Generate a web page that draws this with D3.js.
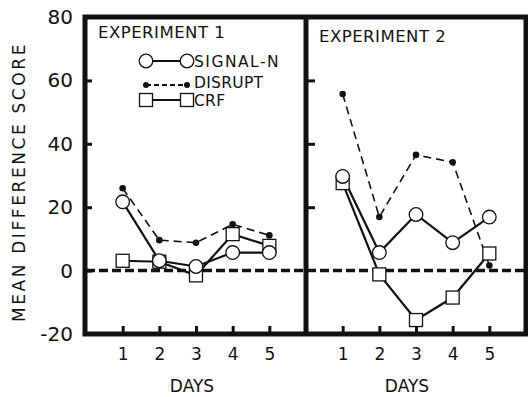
<!DOCTYPE html>
<html>
<head>
<meta charset="utf-8">
<script src="https://cdn.jsdelivr.net/npm/d3@7"></script>
<style>
  body { margin: 0; background: #fff; }
  text { font-family: "DejaVu Sans", sans-serif; fill: #111; }
</style>
</head>
<body>
<div id="chart"></div>
<script>
// data
var days = [1, 2, 3, 4, 5];
var yTicks = [-20, 0, 20, 40, 60, 80];

var exp1Signal = [21.7, 3.1, 1.3, 5.7, 5.7];
var exp1Disrupt = [26.0, 9.6, 8.8, 14.6, 11.1];
var exp1Crf = [3.1, 2.8, -1.5, 11.5, 7.8];

var exp2Signal = [29.7, 5.7, 17.7, 8.8, 16.9];
var exp2Disrupt = [55.7, 16.9, 36.5, 34.2, 1.6];
var exp2Crf = [27.6, -1.2, -15.6, -8.5, 5.4];

var width = 528, height = 397;
var plotTop = 17, plotBottom = 334;

var svg = d3.select("#chart").append("svg")
  .attr("width", width)
  .attr("height", height);

var y = d3.scaleLinear().domain([-20, 80]).range([plotBottom, plotTop]);

var panels = [
  { title: "EXPERIMENT 1", x0: 86, x1: 306, signal: exp1Signal, disrupt: exp1Disrupt, crf: exp1Crf, titleX: 98, titleY: 38, daysX: 192 },
  { title: "EXPERIMENT 2", x0: 306, x1: 526, signal: exp2Signal, disrupt: exp2Disrupt, crf: exp2Crf, titleX: 319, titleY: 42, daysX: 407 }
];

// zero reference line across both panels
svg.append("line")
  .attr("x1", 86).attr("x2", 528)
  .attr("y1", y(0)).attr("y2", y(0))
  .attr("stroke", "#111")
  .attr("stroke-width", 3.5)
  .attr("stroke-dasharray", "9,4");

panels.forEach(function(p) {
  var x = d3.scaleLinear().domain([0, 6]).range([p.x0, p.x1]);
  var g = svg.append("g");

  var line = d3.line()
    .x(function(d, i) { return x(days[i]); })
    .y(function(d) { return y(d); });

  // disrupt (dashed, dots)
  g.append("path").datum(p.disrupt)
    .attr("d", line).attr("fill", "none")
    .attr("stroke", "#111").attr("stroke-width", 1.6)
    .attr("stroke-dasharray", "8,5");

  // CRF (solid, squares)
  g.append("path").datum(p.crf)
    .attr("d", line).attr("fill", "none")
    .attr("stroke", "#111").attr("stroke-width", 2.2);

  // signal-n (solid, circles)
  g.append("path").datum(p.signal)
    .attr("d", line).attr("fill", "none")
    .attr("stroke", "#111").attr("stroke-width", 2.2);

  g.selectAll(".crf").data(p.crf).enter()
    .append("rect")
    .attr("x", function(d, i) { return x(days[i]) - 6.5; })
    .attr("y", function(d) { return y(d) - 6.5; })
    .attr("width", 13).attr("height", 13)
    .attr("fill", "#fff").attr("stroke", "#111").attr("stroke-width", 1.3);

  g.selectAll(".sig").data(p.signal).enter()
    .append("circle")
    .attr("cx", function(d, i) { return x(days[i]); })
    .attr("cy", function(d) { return y(d); })
    .attr("r", 6.8)
    .attr("fill", "#fff").attr("stroke", "#111").attr("stroke-width", 1.3);

  g.selectAll(".dis").data(p.disrupt).enter()
    .append("circle")
    .attr("cx", function(d, i) { return x(days[i]); })
    .attr("cy", function(d) { return y(d); })
    .attr("r", 3.3)
    .attr("fill", "#111");

  // x axis ticks pointing up
  var xAxis = d3.axisBottom(x).tickValues(days).tickFormat(function(d) { return String(d); })
    .tickSizeInner(-8).tickSizeOuter(0).tickPadding(14);
  var ax = svg.append("g")
    .attr("transform", "translate(0," + plotBottom + ")")
    .call(xAxis);
  ax.select(".domain").remove();
  ax.selectAll(".tick line").attr("stroke", "#111").attr("stroke-width", 3);
  ax.selectAll(".tick text")
    .attr("font-size", 17).attr("fill", "#111")
    .style("font-family", "DejaVu Sans, sans-serif");

  svg.append("text")
    .attr("x", p.daysX).attr("y", 392)
    .attr("text-anchor", "middle")
    .attr("font-size", 17)
    .text("DAYS");

  svg.append("text")
    .attr("x", p.titleX).attr("y", p.titleY)
    .attr("font-size", 16.5)
    .attr("letter-spacing", 0.5)
    .text(p.title);
});

// left y axis with inward ticks
var yAxis = d3.axisLeft(y).tickValues(yTicks).tickFormat(function(d) { return String(d); })
  .tickSizeInner(-7).tickSizeOuter(0).tickPadding(12);
var ay = svg.append("g")
  .attr("transform", "translate(85,0)")
  .call(yAxis);
ay.select(".domain").remove();
ay.selectAll(".tick line").attr("stroke", "#111").attr("stroke-width", 3);
ay.selectAll(".tick text")
  .attr("font-size", 20).attr("fill", "#111")
  .style("font-family", "DejaVu Sans, sans-serif");

// ticks on the panel divider
var yAxis2 = d3.axisRight(y).tickValues([20, 40, 60]).tickSize(9).tickFormat("");
var ay2 = svg.append("g")
  .attr("transform", "translate(306,0)")
  .call(yAxis2);
ay2.select(".domain").remove();
ay2.selectAll(".tick line").attr("stroke", "#111").attr("stroke-width", 3);

// frame
var frame = svg.append("g").attr("stroke", "#111").attr("fill", "none");
frame.append("path")
  .attr("d", "M85," + plotTop + "H526V" + plotBottom + "H85Z")
  .attr("stroke-width", 5);
frame.append("line")
  .attr("x1", 306).attr("x2", 306)
  .attr("y1", plotTop).attr("y2", plotBottom)
  .attr("stroke-width", 5);

// y axis title
svg.append("text")
  .attr("transform", "translate(25,182) rotate(-90)")
  .attr("text-anchor", "middle")
  .attr("font-size", 17)
  .attr("letter-spacing", 2.6)
  .text("MEAN DIFFERENCE SCORE");

// legend
var leg = svg.append("g");
var legRows = [
  { label: "SIGNAL-N", y: 61, ty: 67, kind: "circle" },
  { label: "DISRUPT", y: 85, ty: 88, kind: "dot" },
  { label: "CRF", y: 100, ty: 106, kind: "square" }
];
legRows.forEach(function(r) {
  var lx0 = 146, lx1 = 187;
  leg.append("line")
    .attr("x1", lx0).attr("x2", lx1)
    .attr("y1", r.y).attr("y2", r.y)
    .attr("stroke", "#111")
    .attr("stroke-width", r.kind == "dot" ? 1.8 : 2)
    .attr("stroke-dasharray", r.kind == "dot" ? "5,3" : null);
  [lx0, lx1].forEach(function(cx) {
    if (r.kind == "circle") {
      leg.append("circle").attr("cx", cx).attr("cy", r.y).attr("r", 6.8)
        .attr("fill", "#fff").attr("stroke", "#111").attr("stroke-width", 1.3);
    } else if (r.kind == "dot") {
      leg.append("circle").attr("cx", cx).attr("cy", r.y).attr("r", 3)
        .attr("fill", "#111");
    } else {
      leg.append("rect").attr("x", cx - 6.5).attr("y", r.y - 6.5)
        .attr("width", 13).attr("height", 13)
        .attr("fill", "#fff").attr("stroke", "#111").attr("stroke-width", 1.3);
    }
  });
  leg.append("text")
    .attr("x", 194).attr("y", r.ty)
    .attr("font-size", 15.5)
    .attr("letter-spacing", r.kind == "circle" ? 1.5 : 0.3)
    .text(r.label);
});
</script>
</body>
</html>
